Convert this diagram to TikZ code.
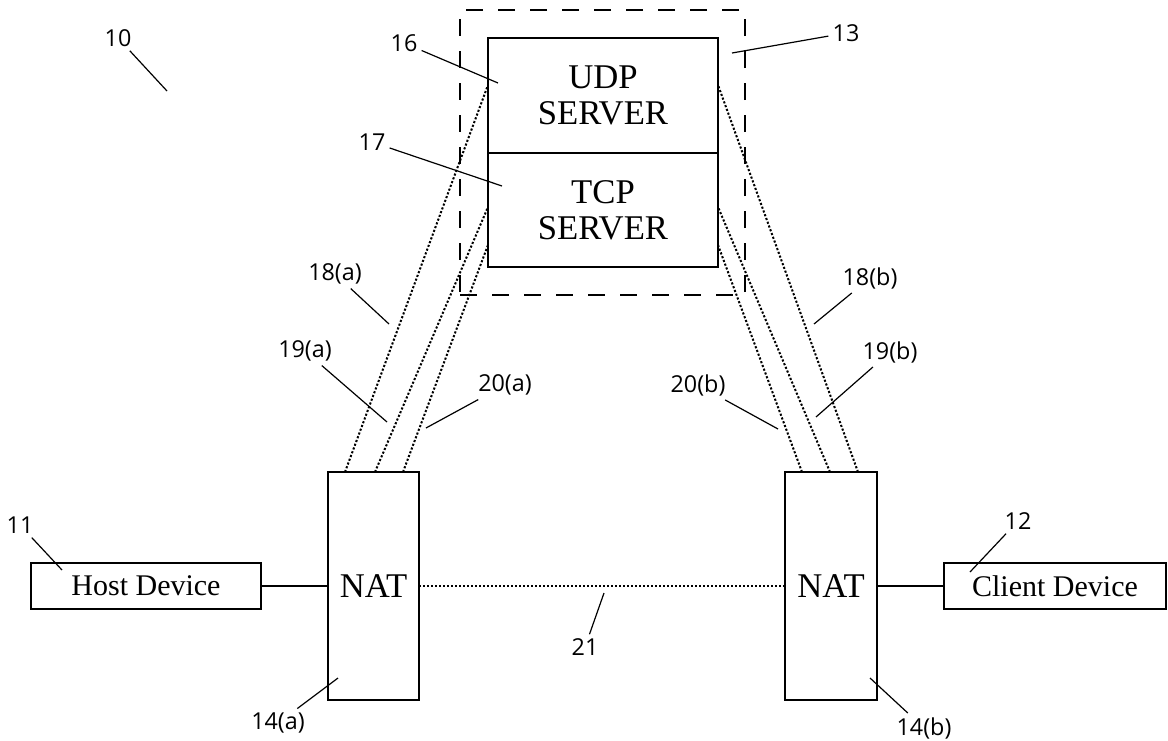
\documentclass[tikz,border=0pt]{standalone}
\usepackage{fontspec}
\setmainfont{Liberation Serif}
\newfontfamily\numfont{Open Sans}
\usetikzlibrary{calc}

\tikzset{
  box/.style={draw, line width=2.2pt, outer sep=0pt, inner sep=0pt, align=center,
    font=\fontsize{26}{27}\selectfont},
  devbox/.style={box, minimum height=46*0.75pt, font=\fontsize{22.5}{26}\selectfont},
  group/.style={draw, line width=1.2pt, dash pattern=on 13pt off 11pt},
  link/.style={line width=1.5pt, dash pattern=on 1.6pt off 1.4pt},
  wire/.style={line width=1.6pt},
  num/.style={font=\numfont\fontsize{17.5}{20}\selectfont, inner sep=3pt},
  leader/.style={line width=0.9pt},
}

% label node, end point, leader line
\newcommand\callout[4]{%
  \node[num] (#1) at (#2) {#3};
  \coordinate (#1-end) at (#4);
  \draw[leader] (#1) -- (#1-end);
}

\begin{document}
\begin{tikzpicture}[x=0.75pt, y=-0.75pt]
  \useasboundingbox (0,0) rectangle (1168,740);

  % Servers:
  \node[group, minimum width=285*0.75pt, minimum height=285*0.75pt] (grp) at (602.5,152.5) {};
  \node[box, minimum width=230*0.75pt, minimum height=115*0.75pt] (udp) at (603,95.5) {UDP\\SERVER};
  \node[box, minimum width=230*0.75pt, minimum height=114*0.75pt, anchor=north] (tcp) at (udp.south) {TCP\\SERVER};

  % NATs and devices:
  \node[box, minimum width=91*0.75pt, minimum height=228*0.75pt] (nata) at (373.5,586) {NAT};
  \node[box, minimum width=92*0.75pt, minimum height=228*0.75pt] (natb) at (831,586) {NAT};
  \node[devbox, minimum width=230*0.75pt] (host) at (146,586) {Host Device};
  \node[devbox, minimum width=222*0.75pt] (client) at (1055,586) {Client Device};

  \draw[wire] (host) -- (nata);
  \draw[wire] (natb) -- (client);
  \draw[link] (nata) -- (natb);

  % Tunnels:
  \draw[link] ($(nata.north west)+(17,0)$) -- ($(udp.north west)+(0,47)$);
  \draw[link] ($(nata.north west)+(47,0)$) -- ($(tcp.north west)+(0,54)$);
  \draw[link] ($(nata.north west)+(75,0)$) -- ($(tcp.north west)+(0,92)$);
  \draw[link] ($(natb.north west)+(73,0)$) -- ($(udp.north east)+(0,47)$);
  \draw[link] ($(natb.north west)+(45,0)$) -- ($(tcp.north east)+(0,54)$);
  \draw[link] ($(natb.north west)+(17,0)$) -- ($(tcp.north east)+(0,92)$);

  % Reference numbers:
  \callout{l10}{118,38}{10}{167,91}
  \callout{l16}{404,43}{16}{498,83}
  \callout{l17}{372,142}{17}{502,186}
  \callout{l13}{846,33}{13}{732,53}
  \callout{l18a}{335,274}{18(a)}{389,324}
  \callout{l19a}{305,351}{19(a)}{387,422}
  \callout{l20a}{505,385}{20(a)}{426,428}
  \callout{l18b}{870,278}{18(b)}{814,324}
  \callout{l19b}{890,352}{19(b)}{816,417}
  \callout{l20b}{698,385}{20(b)}{778,429}
  \callout{l11}{20,525}{11}{62,570}
  \callout{l12}{1018,521}{12}{970,572}
  \callout{l21}{585,647}{21}{604,593}
  \callout{l14a}{278,723}{14(a)}{338,678}
  \callout{l14b}{924,728}{14(b)}{870,678}
\end{tikzpicture}
\end{document}
